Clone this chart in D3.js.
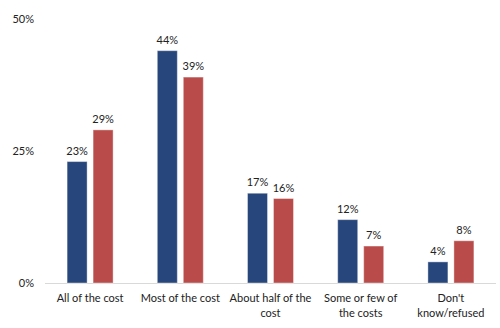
<!DOCTYPE html>
<html>
<head>
<meta charset="utf-8">
<script src="https://cdn.jsdelivr.net/npm/d3@7"></script>
<style>
  html, body { margin: 0; padding: 0; background: #fff; }
  svg text { font-family: Lato, "Open Sans", sans-serif; font-size: 11px; fill: #222; }
</style>
</head>
<body>
<div id="chart"></div>
<script>
// data
const categories = ["All of the cost", "Most of the cost", "About half of the cost", "Some or few of the costs", "Don't know/refused"];
const categoryLines = [["All of the cost"], ["Most of the cost"], ["About half of the", "cost"], ["Some or few of", "the costs"], ["Don't", "know/refused"]];
const seriesA = [23, 44, 17, 12, 4];
const seriesB = [29, 39, 16, 7, 8];
const yTicks = [0, 25, 50];
const colors = ["#27467b", "#b94c4a"];

const width = 500, height = 328;
const margin = { top: 19, right: 4, bottom: 45, left: 45 };

const svg = d3.select("#chart").append("svg")
  .attr("width", width)
  .attr("height", height);

const x = d3.scaleBand()
  .domain(categories)
  .range([margin.left, width - margin.right]);

const sub = d3.scaleBand()
  .domain([0, 1])
  .range([0, 46])
  .paddingInner(0.23);

const y = d3.scaleLinear()
  .domain([0, 50])
  .range([height - margin.bottom, margin.top]);

// y labels
svg.append("g")
  .selectAll("text")
  .data(yTicks)
  .join("text")
  .attr("x", 34)
  .attr("y", d => y(d))
  .attr("dy", "0.35em")
  .attr("text-anchor", "end")
  .text(d => d + "%");

// baseline
svg.append("line")
  .attr("x1", margin.left)
  .attr("x2", width - margin.right)
  .attr("y1", y(0) + 0.5)
  .attr("y2", y(0) + 0.5)
  .attr("stroke", "#d9d9d9");

// bars
const series = [seriesA, seriesB];
const groups = svg.append("g")
  .selectAll("g")
  .data(categories)
  .join("g")
  .attr("transform", d => `translate(${x(d) + x.bandwidth() / 2 - 23},0)`);

groups.each(function (cat, i) {
  const g = d3.select(this);
  series.forEach((s, k) => {
    g.append("rect")
      .attr("x", sub(k))
      .attr("y", y(s[i]))
      .attr("width", sub.bandwidth())
      .attr("height", y(0) - y(s[i]))
      .attr("fill", colors[k])
      .attr("stroke", "#fff")
      .attr("stroke-opacity", 0.4)
      .attr("stroke-width", 1);
    g.append("text")
      .attr("x", sub(k) + sub.bandwidth() / 2)
      .attr("y", y(s[i]) - 7)
      .attr("text-anchor", "middle")
      .text(s[i] + "%");
  });
});

// category labels
svg.append("g")
  .selectAll("text")
  .data(categories)
  .join("text")
  .attr("x", d => x(d) + x.bandwidth() / 2)
  .attr("y", y(0) + 19)
  .attr("text-anchor", "middle")
  .each(function (d, i) {
    d3.select(this).selectAll("tspan")
      .data(categoryLines[i])
      .join("tspan")
      .attr("x", x(d) + x.bandwidth() / 2)
      .attr("dy", (t, j) => j === 0 ? 0 : 15)
      .text(t => t);
  });
</script>
</body>
</html>
